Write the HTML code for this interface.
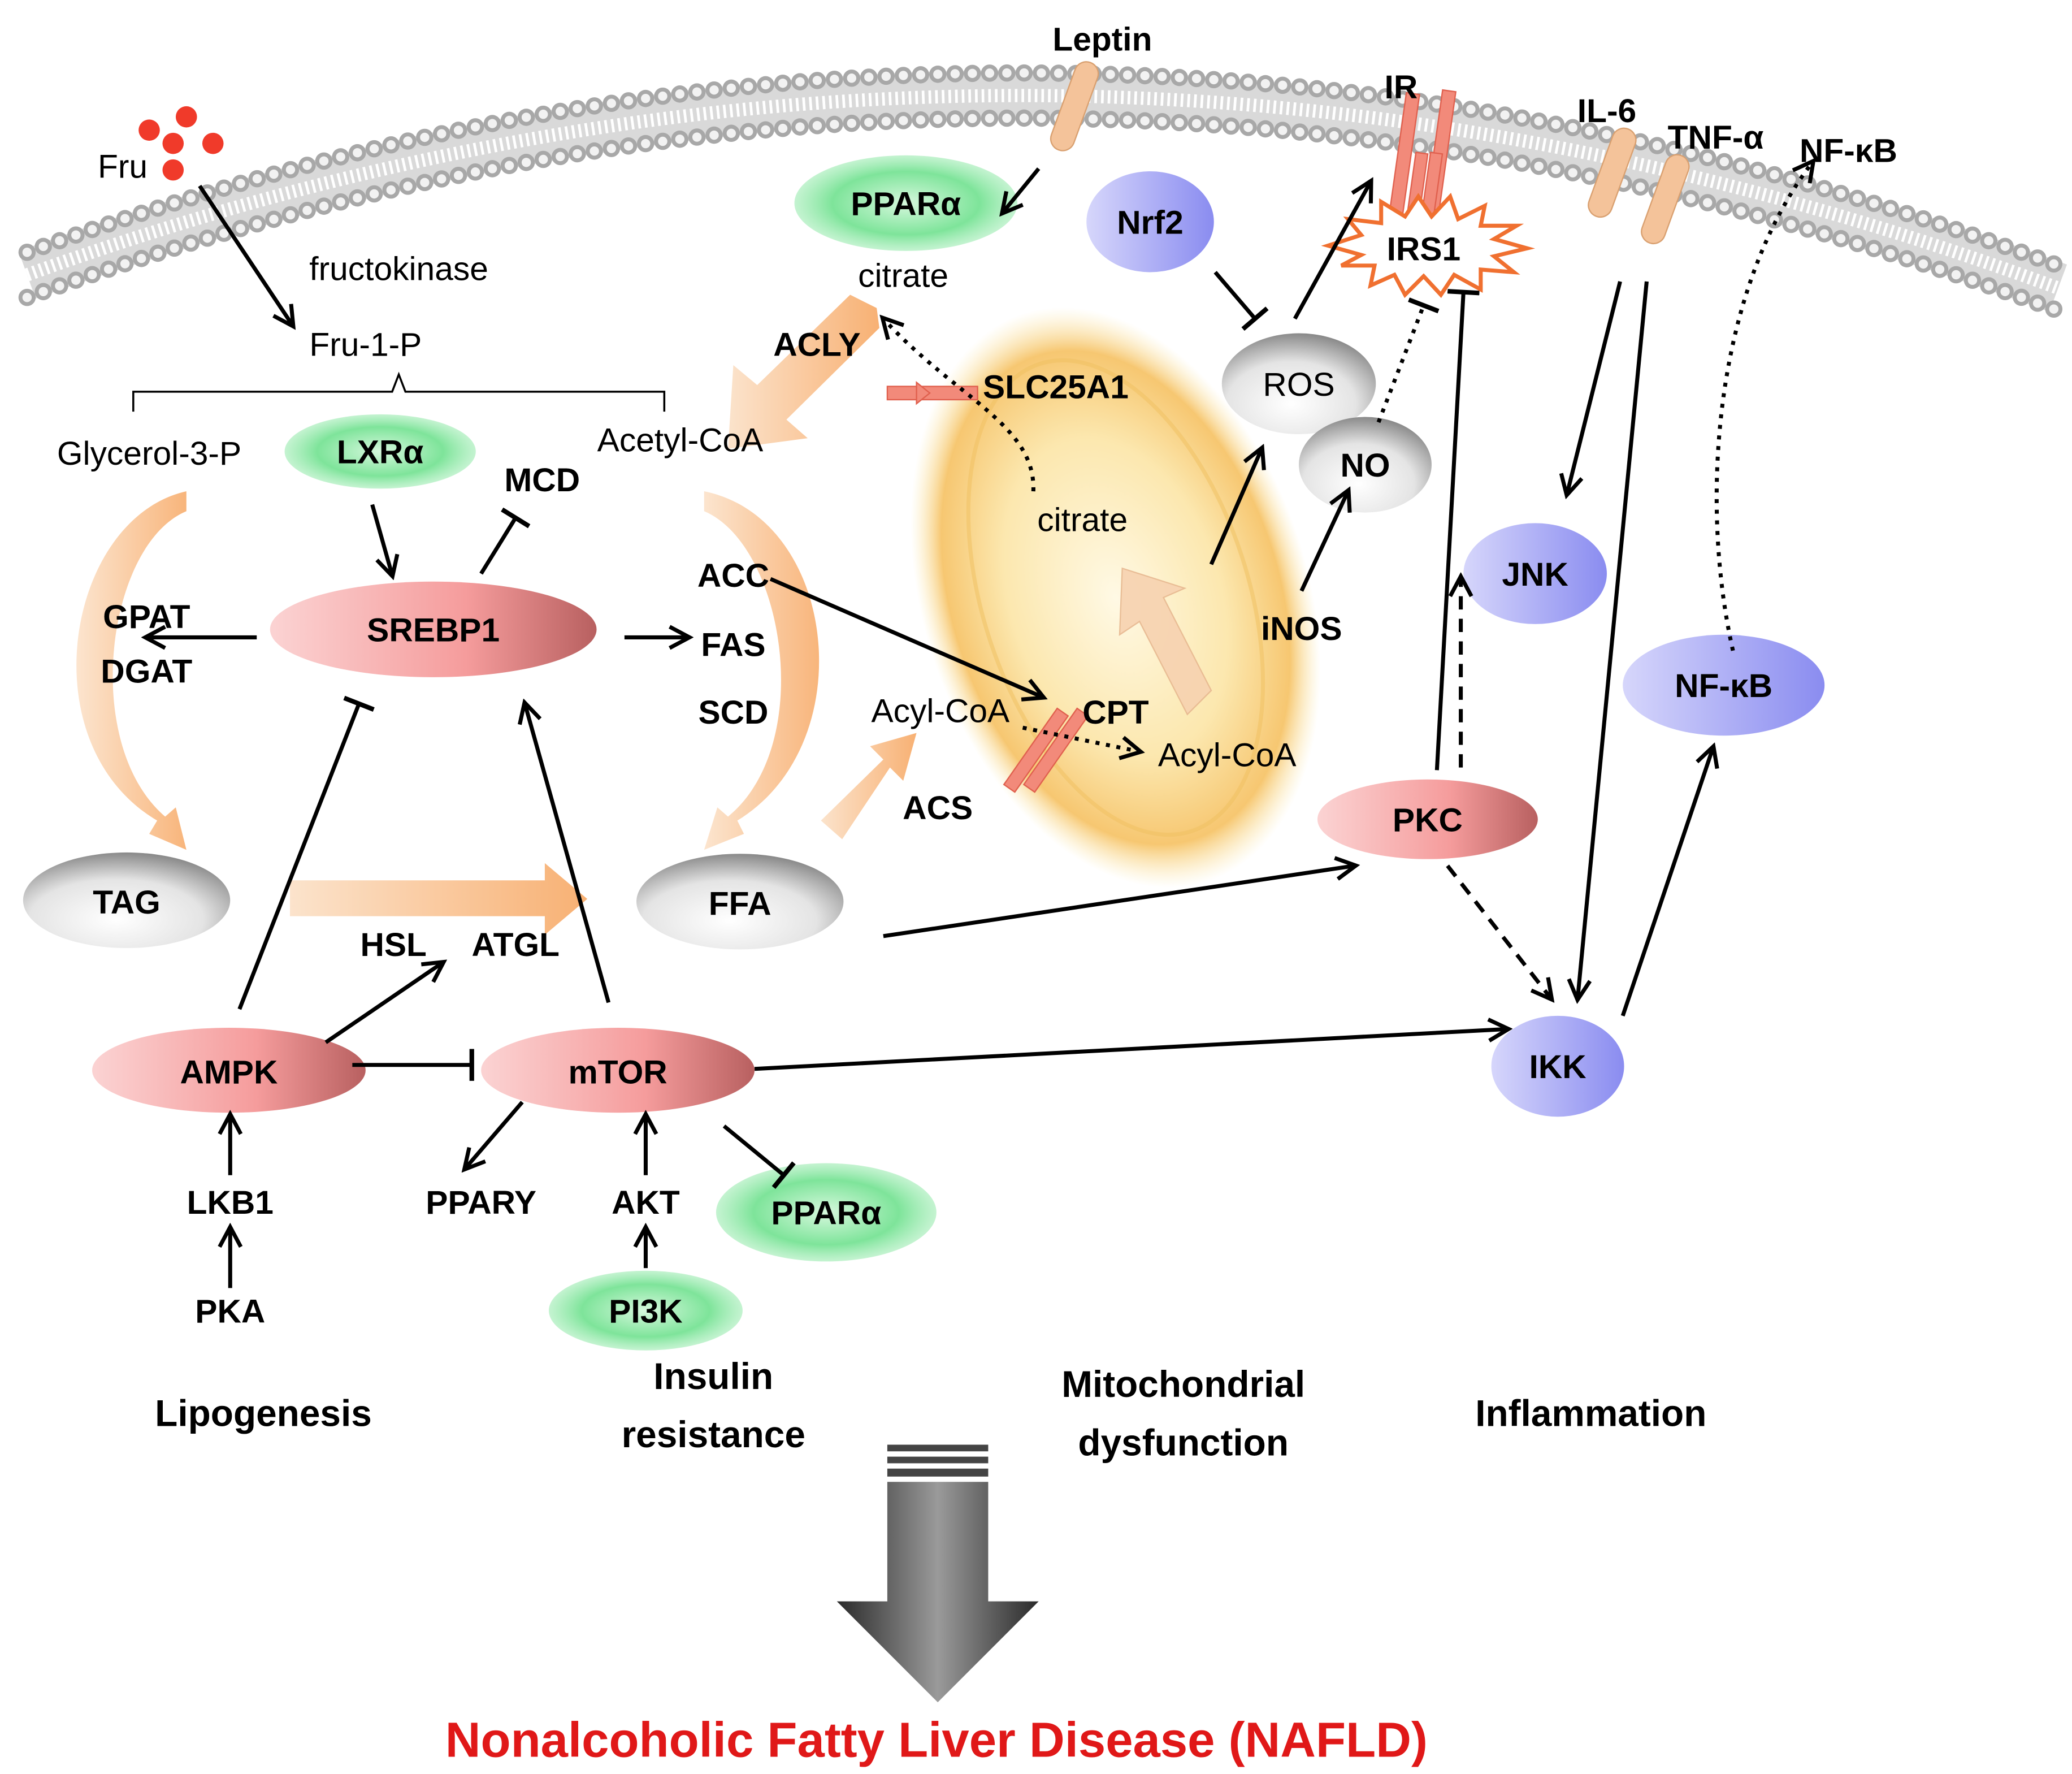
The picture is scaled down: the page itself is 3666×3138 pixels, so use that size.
<!DOCTYPE html>
<html><head><meta charset="utf-8"><style>
html,body{margin:0;padding:0;background:#fff;}
svg{display:block;}
text{font-family:"Liberation Sans",sans-serif;}
.b{font-weight:bold;font-size:25px;}
.n{font-size:25px;}
</style></head><body>
<svg width="3666" height="3138" viewBox="0 0 1560 1336" xmlns="http://www.w3.org/2000/svg">
<defs>
<marker id="ahb" markerWidth="20" markerHeight="20" refX="16" refY="10" orient="auto" markerUnits="userSpaceOnUse" viewBox="0 0 20 20"><path d="M2,2 L17,10 L2,18" fill="none" stroke="#000" stroke-width="3"/></marker>
<marker id="tb" markerWidth="20" markerHeight="24" refX="3" refY="12" orient="auto" markerUnits="userSpaceOnUse" viewBox="0 0 20 24"><path d="M3,0 L3,24" stroke="#000" stroke-width="3.5"/></marker>
<linearGradient id="gre" x1="0" x2="1"><stop offset="0" stop-color="#fbd3d3"/><stop offset="0.6" stop-color="#f59c9c"/><stop offset="1" stop-color="#b86060"/></linearGradient>
<radialGradient id="gg" cx="50%" cy="50%" r="55%"><stop offset="0" stop-color="#d6f8dd"/><stop offset="0.6" stop-color="#7ee49a"/><stop offset="1" stop-color="#b7f1c6" stop-opacity="0.6"/></radialGradient>
<linearGradient id="gp" x1="0" x2="1"><stop offset="0" stop-color="#d6d6fb"/><stop offset="1" stop-color="#8a8cf0"/></linearGradient>
<radialGradient id="gy" cx="45%" cy="70%" r="70%"><stop offset="0" stop-color="#fff"/><stop offset="0.6" stop-color="#e4e4e4"/><stop offset="1" stop-color="#8a8a8a"/></radialGradient>
<radialGradient id="gm" cx="50%" cy="50%" r="50%"><stop offset="0" stop-color="#fff8e0"/><stop offset="0.55" stop-color="#fbe3a0"/><stop offset="0.85" stop-color="#f5bd58"/><stop offset="1" stop-color="#fbe6a0" stop-opacity="0"/></radialGradient>
<linearGradient id="go" x1="0" x2="1"><stop offset="0" stop-color="#fbe0c6"/><stop offset="1" stop-color="#f7a864"/></linearGradient>
<linearGradient id="gd" x1="0" x2="1"><stop offset="0" stop-color="#2a2a2a"/><stop offset="0.5" stop-color="#9a9a9a"/><stop offset="1" stop-color="#2a2a2a"/></linearGradient>
</defs>

<!-- membrane -->
<path d="M20,207 Q780,-68 1550,217" fill="none" stroke="#d9d9d9" stroke-width="38"/>
<path d="M20,207 Q780,-68 1550,217" fill="none" stroke="#fff" stroke-width="10" stroke-dasharray="2 3"/>
<path d="M20,190 Q780,-85 1550,200" fill="none" stroke="#a8a8a8" stroke-width="13" stroke-dasharray="0 13" stroke-linecap="round"/>
<path d="M20,190 Q780,-85 1550,200" fill="none" stroke="#f2f2f2" stroke-width="7" stroke-dasharray="0 13" stroke-linecap="round"/>
<path d="M20,224 Q780,-51 1550,234" fill="none" stroke="#a8a8a8" stroke-width="13" stroke-dasharray="0 13" stroke-linecap="round"/>
<path d="M20,224 Q780,-51 1550,234" fill="none" stroke="#f2f2f2" stroke-width="7" stroke-dasharray="0 13" stroke-linecap="round"/>

<!-- mitochondrion -->
<ellipse cx="840" cy="450" rx="145" ry="225" transform="rotate(-18 840 450)" fill="url(#gm)" opacity="0.85"/>
<ellipse cx="840" cy="450" rx="100" ry="185" transform="rotate(-18 840 450)" fill="none" stroke="#f0c060" stroke-width="3" opacity="0.5"/>

<!-- receptors -->
<rect x="800" y="45" width="18" height="70" rx="9" fill="#f4c39a" stroke="#d9a070" transform="rotate(20 809 80)"/>
<rect x="1205" y="95" width="18" height="70" rx="9" fill="#f4c39a" stroke="#d9a070" transform="rotate(20 1214 130)"/>
<rect x="1245" y="115" width="18" height="70" rx="9" fill="#f4c39a" stroke="#d9a070" transform="rotate(20 1254 150)"/>
<g fill="#f28a7a" stroke="#e0604e">
<rect x="1052" y="70" width="10" height="100" transform="rotate(8 1057 120)"/>
<rect x="1080" y="68" width="10" height="90" transform="rotate(8 1085 113)"/>
<rect x="1062" y="115" width="9" height="60" transform="rotate(8 1066 145)"/>
<rect x="1073" y="115" width="9" height="60" transform="rotate(8 1077 145)"/>
</g>
<polygon fill="#fff" stroke="#f07030" stroke-width="3" points="1000,185 1025,177 1015,165 1040,168 1040,152 1058,163 1068,148 1078,163 1092,148 1098,165 1118,155 1115,170 1142,170 1125,180 1150,187 1125,193 1140,205 1115,203 1115,218 1095,207 1085,222 1072,208 1058,222 1050,207 1032,215 1035,200 1010,200 1025,192"/>
<text class="b" x="1072" y="196" text-anchor="middle">IRS1</text>

<g fill="#f03a2a"><circle cx="112" cy="98" r="8"/><circle cx="140" cy="88" r="8"/><circle cx="130" cy="108" r="8"/><circle cx="160" cy="108" r="8"/><circle cx="130" cy="128" r="8"/></g>

<!-- orange block arrows -->
<path d="M660,232 L640,222 L570,290 L552,275 L548,338 L608,330 L592,316 L662,247 Z" fill="url(#go)" opacity="0.9"/>
<path d="M218,663 L410,663 L410,650 L442,677 L410,704 L410,690 L218,690 Z" fill="url(#go)" opacity="0.9"/>
<path d="M618,618 L665,572 L655,562 L690,552 L680,588 L670,578 L634,632 Z" fill="url(#go)" opacity="0.9"/>
<path d="M140,370 C50,390 20,560 118,618 L112,628 L140,640 L132,608 L124,615 C60,560 80,410 140,385 Z" fill="url(#go)" opacity="0.85"/>
<path d="M530,370 C630,390 650,560 555,618 L560,628 L530,640 L540,608 L548,615 C615,560 590,410 530,385 Z" fill="url(#go)" opacity="0.85"/>
<path d="M912,520 L876,450 L892,443 L845,428 L843,478 L858,468 L894,538 Z" fill="#f7d2b0" stroke="#e7b890" opacity="0.9"/>

<path d="M100,310 L100,295 L295,295 L300,282 L305,295 L500,295 L500,310" fill="none" stroke="#000" stroke-width="1.5"/>

<!-- nodes -->
<ellipse cx="682" cy="153" rx="84" ry="36" fill="url(#gg)"/>
<ellipse cx="286" cy="340" rx="72" ry="28" fill="url(#gg)"/>
<ellipse cx="326" cy="474" rx="123" ry="36" fill="url(#gre)"/>
<ellipse cx="866" cy="167" rx="48" ry="38" fill="url(#gp)"/>
<ellipse cx="978" cy="289" rx="58" ry="38" fill="url(#gy)"/>
<ellipse cx="1028" cy="350" rx="50" ry="36" fill="url(#gy)"/>
<ellipse cx="1156" cy="432" rx="54" ry="38" fill="url(#gp)"/>
<ellipse cx="1298" cy="516" rx="76" ry="38" fill="url(#gp)"/>
<ellipse cx="1075" cy="617" rx="83" ry="30" fill="url(#gre)"/>
<ellipse cx="1173" cy="803" rx="50" ry="38" fill="url(#gp)"/>
<ellipse cx="95" cy="678" rx="78" ry="36" fill="url(#gy)"/>
<ellipse cx="557" cy="679" rx="78" ry="36" fill="url(#gy)"/>
<ellipse cx="172" cy="806" rx="103" ry="32" fill="url(#gre)"/>
<ellipse cx="465" cy="806" rx="103" ry="32" fill="url(#gre)"/>
<ellipse cx="622" cy="913" rx="83" ry="37" fill="url(#gg)"/>
<ellipse cx="486" cy="987" rx="73" ry="30" fill="url(#gg)"/>

<g fill="#f28a7a" stroke="#e0604e"><rect x="668" y="291" width="68" height="10"/><polygon points="690,288 700,296 690,304"/><rect x="775" y="530" width="10" height="70" transform="rotate(35 780 565)"/><rect x="790" y="530" width="10" height="70" transform="rotate(35 795 565)"/></g>

<!-- connectors -->
<g stroke="#000" stroke-width="3" fill="none">
<line x1="150" y1="140" x2="220" y2="245" marker-end="url(#ahb)"/>
<line x1="782" y1="127" x2="755" y2="160" marker-end="url(#ahb)"/>
<line x1="280" y1="380" x2="295" y2="433" marker-end="url(#ahb)"/>
<line x1="362" y1="432" x2="388" y2="390" marker-end="url(#tb)"/>
<line x1="193" y1="480" x2="110" y2="480" marker-end="url(#ahb)"/>
<line x1="470" y1="480" x2="518" y2="480" marker-end="url(#ahb)"/>
<line x1="580" y1="436" x2="785" y2="525" marker-end="url(#ahb)"/>
<line x1="180" y1="760" x2="270" y2="530" marker-end="url(#tb)"/>
<line x1="458" y1="755" x2="395" y2="530" marker-end="url(#ahb)"/>
<line x1="245" y1="785" x2="333" y2="725" marker-end="url(#ahb)"/>
<line x1="265" y1="802" x2="355" y2="802" marker-end="url(#tb)"/>
<line x1="568" y1="805" x2="1135" y2="775" marker-end="url(#ahb)"/>
<line x1="393" y1="830" x2="350" y2="880" marker-end="url(#ahb)"/>
<line x1="545" y1="848" x2="590" y2="885" marker-end="url(#tb)"/>
<line x1="486" y1="885" x2="486" y2="840" marker-end="url(#ahb)"/>
<line x1="486" y1="955" x2="486" y2="925" marker-end="url(#ahb)"/>
<line x1="173" y1="885" x2="173" y2="840" marker-end="url(#ahb)"/>
<line x1="173" y1="970" x2="173" y2="925" marker-end="url(#ahb)"/>
<line x1="665" y1="705" x2="1020" y2="652" marker-end="url(#ahb)"/>
<line x1="915" y1="205" x2="945" y2="240" marker-end="url(#tb)"/>
<line x1="975" y1="240" x2="1032" y2="137" marker-end="url(#ahb)"/>
<line x1="912" y1="425" x2="950" y2="338" marker-end="url(#ahb)"/>
<line x1="980" y1="445" x2="1015" y2="370" marker-end="url(#ahb)"/>
<line x1="1082" y1="580" x2="1102" y2="220" marker-end="url(#tb)"/>
<line x1="1220" y1="212" x2="1180" y2="372" marker-end="url(#ahb)"/>
<line x1="1240" y1="212" x2="1188" y2="752" marker-end="url(#ahb)"/>
<line x1="1222" y1="765" x2="1290" y2="563" marker-end="url(#ahb)"/>
</g>
<g stroke="#000" stroke-width="3" fill="none" stroke-dasharray="10 7">
<line x1="1100" y1="578" x2="1100" y2="435" marker-end="url(#ahb)"/>
<line x1="1090" y1="652" x2="1168" y2="752" marker-end="url(#ahb)"/>
</g>
<g stroke="#000" stroke-width="3" fill="none" stroke-dasharray="3 5">
<path d="M1305,490 C1280,380 1290,220 1365,122" marker-end="url(#ahb)"/>
<path d="M778,370 C780,320 720,300 665,240" marker-end="url(#ahb)"/>
<line x1="770" y1="548" x2="858" y2="566" marker-end="url(#ahb)"/>
<line x1="1038" y1="318" x2="1072" y2="230" marker-end="url(#tb)"/>
</g>

<g class="b">
<text x="830" y="38" text-anchor="middle">Leptin</text>
<text x="1055" y="74" text-anchor="middle">IR</text>
<text x="1210" y="92" text-anchor="middle">IL-6</text>
<text x="1292" y="112" text-anchor="middle">TNF-α</text>
<text x="1392" y="122" text-anchor="middle">NF-κB</text>
<text x="682" y="162" text-anchor="middle">PPARα</text>
<text x="866" y="176" text-anchor="middle">Nrf2</text>
<text x="615" y="268" text-anchor="middle">ACLY</text>
<text x="740" y="300">SLC25A1</text>
<text x="286" y="349" text-anchor="middle">LXRα</text>
<text x="408" y="370" text-anchor="middle">MCD</text>
<text x="1028" y="359" text-anchor="middle">NO</text>
<text x="326" y="483" text-anchor="middle">SREBP1</text>
<text x="110" y="473" text-anchor="middle">GPAT</text>
<text x="110" y="514" text-anchor="middle">DGAT</text>
<text x="552" y="442" text-anchor="middle">ACC</text>
<text x="552" y="494" text-anchor="middle">FAS</text>
<text x="552" y="545" text-anchor="middle">SCD</text>
<text x="1156" y="441" text-anchor="middle">JNK</text>
<text x="980" y="482" text-anchor="middle">iNOS</text>
<text x="1298" y="525" text-anchor="middle">NF-κB</text>
<text x="840" y="545" text-anchor="middle">CPT</text>
<text x="706" y="617" text-anchor="middle">ACS</text>
<text x="1075" y="626" text-anchor="middle">PKC</text>
<text x="95" y="688" text-anchor="middle">TAG</text>
<text x="557" y="689" text-anchor="middle">FFA</text>
<text x="296" y="720" text-anchor="middle">HSL</text>
<text x="388" y="720" text-anchor="middle">ATGL</text>
<text x="172" y="816" text-anchor="middle">AMPK</text>
<text x="465" y="816" text-anchor="middle">mTOR</text>
<text x="1173" y="812" text-anchor="middle">IKK</text>
<text x="173" y="914" text-anchor="middle">LKB1</text>
<text x="362" y="914" text-anchor="middle">PPARY</text>
<text x="486" y="914" text-anchor="middle">AKT</text>
<text x="622" y="922" text-anchor="middle">PPARα</text>
<text x="486" y="996" text-anchor="middle">PI3K</text>
<text x="173" y="996" text-anchor="middle">PKA</text>
<text x="198" y="1074" text-anchor="middle" font-size="28">Lipogenesis</text>
<text x="537" y="1046" text-anchor="middle" font-size="28">Insulin</text>
<text x="537" y="1090" text-anchor="middle" font-size="28">resistance</text>
<text x="891" y="1052" text-anchor="middle" font-size="28">Mitochondrial</text>
<text x="891" y="1096" text-anchor="middle" font-size="28">dysfunction</text>
<text x="1198" y="1074" text-anchor="middle" font-size="28">Inflammation</text>
</g>
<g class="n">
<text x="92" y="134" text-anchor="middle">Fru</text>
<text x="300" y="211" text-anchor="middle">fructokinase</text>
<text x="275" y="268" text-anchor="middle">Fru-1-P</text>
<text x="680" y="216" text-anchor="middle">citrate</text>
<text x="112" y="350" text-anchor="middle">Glycerol-3-P</text>
<text x="512" y="340" text-anchor="middle">Acetyl-CoA</text>
<text x="815" y="400" text-anchor="middle">citrate</text>
<text x="978" y="298" text-anchor="middle">ROS</text>
<text x="708" y="544" text-anchor="middle">Acyl-CoA</text>
<text x="924" y="577" text-anchor="middle">Acyl-CoA</text>
</g>

<rect x="668" y="1088" width="76" height="5" fill="#444"/>
<rect x="668" y="1097" width="76" height="5" fill="#444"/>
<rect x="668" y="1106" width="76" height="6" fill="#444"/>
<polygon points="668,1116 744,1116 744,1206 782,1206 706,1282 630,1206 668,1206" fill="url(#gd)"/>
<text x="705" y="1323" text-anchor="middle" font-weight="bold" font-size="37" fill="#e01818">Nonalcoholic Fatty Liver Disease (NAFLD)</text>
</svg>
</body></html>
